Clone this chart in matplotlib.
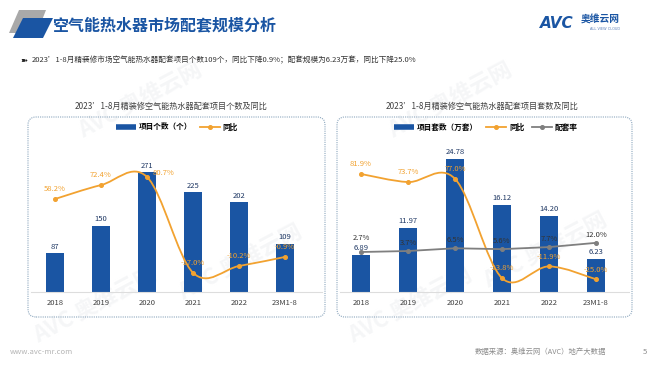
import matplotlib
matplotlib.use("Agg")
import matplotlib.pyplot as plt
import numpy as np
from matplotlib.patches import Polygon, FancyBboxPatch, PathPatch
from matplotlib.path import Path
from matplotlib.lines import Line2D

plt.rcParams['font.family'] = ['Noto Sans CJK SC', 'DejaVu Sans']

# ---------------- data ----------------
categories = ['2018', '2019', '2020', '2021', '2022', '23M1-8']
count_values = [87, 150, 271, 225, 202, 109]
count_yoy = [58.2, 72.4, 80.7, -17.0, -10.2, -0.9]
sets_values = [6.89, 11.97, 24.78, 16.12, 14.20, 6.23]
sets_yoy = [81.9, 73.7, 77.0, -23.8, -11.9, -25.0]
match_rate = [2.7, 3.7, 6.5, 5.6, 7.7, 12.0]

BLUE = '#1A55A3'
ORANGE = '#F2A230'
GRAY = '#7F7F7F'
NAVY = '#1F3864'
TXT = '#404040'

W, H = 660, 372
fig = plt.figure(figsize=(W / 100, H / 100), dpi=100)


def inch(px, py):
    # pixel position (top-left origin) -> inches for dpi_scale_trans
    return px / 100, (H - py) / 100


def fx(px):
    return px / W


def fy(py):
    return 1 - py / H


def smooth_path(xs, ys):
    # smoothed line like the office chart (catmull-rom as bezier)
    pts = np.column_stack([xs, ys]).astype(float)
    n = len(pts)
    verts = [pts[0]]
    codes = [Path.MOVETO]
    for i in range(n - 1):
        p0 = pts[i - 1] if i > 0 else pts[i]
        p1, p2 = pts[i], pts[i + 1]
        p3 = pts[i + 2] if i + 2 < n else pts[i + 1]
        verts += [p1 + (p2 - p0) / 6, p2 - (p3 - p1) / 6, p2]
        codes += [Path.CURVE4] * 3
    return Path(verts, codes)


#---------------------------/ header /--------------------------
fig.patches.append(Polygon([inch(19, 10), inch(46, 10), inch(37, 33), inch(9, 33)],
                           closed=True, transform=fig.dpi_scale_trans,
                           fc='#A9A9A9', ec='none', figure=fig))
fig.patches.append(Polygon([inch(23, 18), inch(53, 18), inch(43, 38), inch(13, 38)],
                           closed=True, transform=fig.dpi_scale_trans,
                           fc=BLUE, ec='none', figure=fig))
fig.text(fx(52), fy(25), '空气能热水器市场配套规模分析', fontsize=11.5,
         fontweight='bold', color=BLUE, va='center', ha='left')

fig.text(fx(540), fy(23), 'AVC', fontsize=11, fontweight='bold', style='italic',
         color=BLUE, va='center', ha='left', family=['DejaVu Sans'])
fig.text(fx(581), fy(20), '奥维云网', fontsize=7, fontweight='bold',
         color=BLUE, va='center', ha='left')
fig.text(fx(590), fy(29.5), 'ALL VIEW CLOUD', fontsize=2.5,
         color='#5A7FB8', va='center', ha='left', family=['DejaVu Sans'])

fig.text(fx(20), fy(60), '➽', fontsize=6, color='#222222', va='center',
         family=['DejaVu Sans'])
fig.text(fx(32), fy(60),
         '2023’1-8月精装修市场空气能热水器配套项目个数109个，同比下降0.9%；'
         '配套规模为6.23万套，同比下降25.0%',
         fontsize=5.5, color='#333333', va='center', ha='left')

# faint watermarks, behind the charts
for (wx, wy) in [(140, 100), (450, 100), (95, 305), (410, 305), (240, 262), (545, 250)]:
    fig.text(fx(wx), fy(wy), 'AVC 奥维云网', fontsize=16, fontweight='bold',
             color='#E4E6EA', alpha=0.35, rotation=28, ha='center', va='center',
             zorder=-1)

#---------------------------/ frames /--------------------------
for (x0, x1) in [(28, 325), (337, 632)]:
    fig.patches.append(FancyBboxPatch(inch(x0, 317), (x1 - x0) / 100, 200 / 100,
                                      boxstyle='round,pad=0,rounding_size=0.08',
                                      transform=fig.dpi_scale_trans, fill=False,
                                      ec='#8DA7BE', lw=0.8, ls=(0, (1, 1)),
                                      figure=fig))
    fig.lines.append(Line2D([fx(x0 + 3), fx(x1 - 3)], [fy(292), fy(292)],
                            transform=fig.transFigure, color='#DDDDDD', lw=0.8))

fig.text(fx(171), fy(106), '2023’1-8月精装修空气能热水器配套项目个数及同比',
         fontsize=5.9, color=TXT, ha='center', va='center')
fig.text(fx(482), fy(106), '2023’1-8月精装修空气能热水器配套项目套数及同比',
         fontsize=5.9, color=TXT, ha='center', va='center')

x = np.arange(len(categories))

#---------------------------/ left chart /--------------------------
ax1 = fig.add_axes([fx(32), (H - 292) / H, 276 / W, 152 / H])
ax1.bar(x, count_values, width=0.39, color=BLUE, zorder=2)
for i, v in enumerate(count_values):
    ax1.annotate(str(v), (i, v), xytext=(0, 4.5), textcoords='offset points',
                 ha='center', va='center', fontsize=5.5, color=NAVY)
ax1.set_xlim(-0.5, len(categories) - 0.5)
ax1.set_ylim(0, 343)

ax1b = ax1.twinx()
ax1b.set_ylim(-36.7, 118.4)
ax1b.add_patch(PathPatch(smooth_path(x, count_yoy), fill=False, ec=ORANGE, lw=1.3))
ax1b.plot(x, count_yoy, 'o', color=ORANGE, ms=2.6)
for i, v in enumerate(count_yoy):
    off = (12, 3) if i == 2 else (0, 7)
    ax1b.annotate(f'{v:.1f}%', (i, v), xytext=off, textcoords='offset points',
                  ha='center', va='center', fontsize=5.5, color=ORANGE)

#---------------------------/ right chart /--------------------------
ax2 = fig.add_axes([337.5 / W, (H - 292) / H, 282 / W, 152 / H])
ax2.bar(x, sets_values, width=0.40, color=BLUE, zorder=2)
for i, v in enumerate(sets_values):
    ax2.annotate(f'{v:.2f}', (i, v), xytext=(0, 5), textcoords='offset points',
                 ha='center', va='center', fontsize=5.5, color=NAVY)
ax2.set_xlim(-0.5, len(categories) - 0.5)
ax2.set_ylim(0, 28.3)

ax2b = ax2.twinx()
ax2b.set_ylim(-37.9, 116.4)
ax2b.plot(x, match_rate, '-o', color=GRAY, lw=1.3, ms=2.6)
ax2b.add_patch(PathPatch(smooth_path(x, sets_yoy), fill=False, ec=ORANGE, lw=1.3))
ax2b.plot(x, sets_yoy, 'o', color=ORANGE, ms=2.6)
for i, v in enumerate(sets_yoy):
    ax2b.annotate(f'{v:.1f}%', (i, v), xytext=(0, 7), textcoords='offset points',
                  ha='center', va='center', fontsize=5.5, color=ORANGE)
for i, v in enumerate(match_rate):
    off = (0, 10) if i == 0 else (0, 6)
    ax2b.annotate(f'{v:.1f}%', (i, v), xytext=off, textcoords='offset points',
                  ha='center', va='center', fontsize=5.5, color='#333333')

for a in (ax1, ax1b, ax2, ax2b):
    a.patch.set_visible(False)
    for s in a.spines.values():
        s.set_visible(False)
    a.set_yticks([])
for a in (ax1, ax2):
    a.set_xticks(x)
    a.set_xticklabels(categories, fontsize=5.5, color=TXT)
    a.tick_params(axis='x', length=0, pad=5)

#---------------------------/ legends /--------------------------
bar_h = Line2D([], [], color=BLUE, lw=4, solid_capstyle='butt')
yoy_h = Line2D([], [], color=ORANGE, lw=1.3, marker='o', ms=2.6)
rate_h = Line2D([], [], color=GRAY, lw=1.3, marker='o', ms=2.6)
legend_font = {'size': 5.5, 'weight': 'bold'}
fig.legend([bar_h, yoy_h], ['项目个数（个）', '同比'], loc='center',
           bbox_to_anchor=(fx(177), fy(127)), ncol=2, frameon=False,
           prop=legend_font, handlelength=2.6, columnspacing=1.0, handletextpad=0.4)
fig.legend([bar_h, yoy_h, rate_h], ['项目套数（万套）', '同比', '配套率'], loc='center',
           bbox_to_anchor=(fx(486), fy(127)), ncol=3, frameon=False,
           prop=legend_font, handlelength=2.6, columnspacing=1.0, handletextpad=0.4)

#---------------------------/ footer /--------------------------
fig.text(fx(10), fy(352), 'www.avc-mr.com', fontsize=5.5, color='#B5B5B5', va='center')
fig.text(fx(606), fy(352), '数据来源：奥维云网（AVC）地产大数据', fontsize=5.3,
         color='#8C8C8C', va='center', ha='right')
fig.text(fx(643), fy(352), '5', fontsize=5.5, color='#8C8C8C', va='center')

fig.savefig('out.png', dpi=100)
